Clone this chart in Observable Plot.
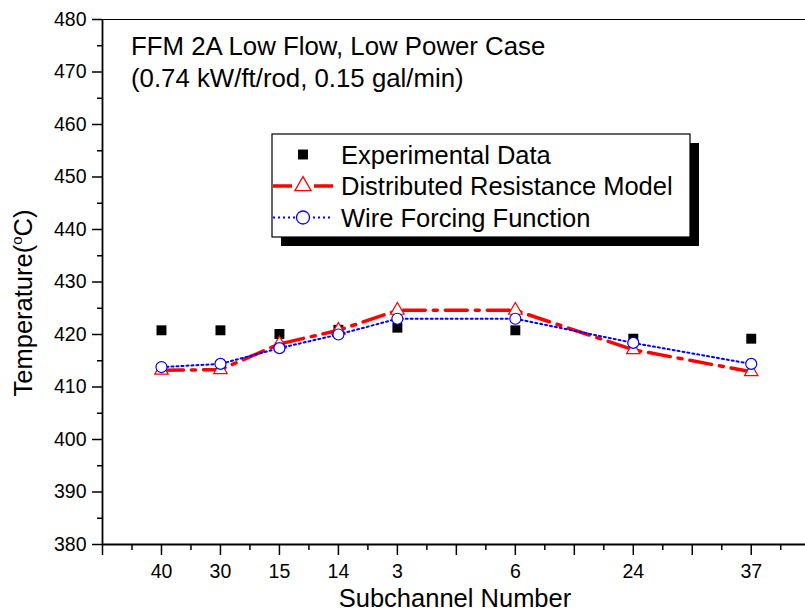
<!DOCTYPE html>
<html>
<head>
<meta charset="utf-8">
<script src="https://cdn.jsdelivr.net/npm/d3@7"></script>
<script src="https://cdn.jsdelivr.net/npm/@observablehq/plot@0.6"></script>
<style>
  html, body { margin: 0; padding: 0; background: #fff; }
  #chart { width: 805px; height: 614px; }
  svg text { font-family: "Liberation Sans", Arial, sans-serif; }
</style>
</head>
<body>
<div id="chart"></div>
<script>
// ---- data ----
const categories   = ["40", "30", "15", "14", "3", "6", "24", "37"];
const slots        = [1, 2, 3, 4, 5, 7, 9, 11];          // position of each subchannel on the axis
const experimental = [420.8, 420.8, 420.1, 420.9, 421.3, 420.8, 419.2, 419.2];
const distributed  = [413.2, 413.3, 418.2, 420.8, 424.6, 424.6, 417.1, 412.9];
const wireForcing  = [413.8, 414.4, 417.4, 420.0, 423.0, 423.0, 418.4, 414.4];
const yTicks = [380, 390, 400, 410, 420, 430, 440, 450, 460, 470, 480];
const xMajor = [0, 1, 2, 3, 4, 5, 6, 7, 8, 9, 10, 11];
const titleLines = ["FFM 2A Low Flow, Low Power Case", "(0.74 kW/ft/rod, 0.15 gal/min)"];
const seriesNames = ["Experimental Data", "Distributed Resistance Model", "Wire Forcing Function"];

const rows = categories.map((c, i) => ({
  cat: c, slot: slots[i], exp: experimental[i], drm: distributed[i], wff: wireForcing[i]
}));
const slotLabel = new Map(slots.map((s, i) => [s, categories[i]]));
const xMinor = xMajor.map(v => v + 0.5);
const yMinor = yTicks.slice(0, -1).map(v => v + 5);

const RED = "#ff0000", BLUE = "#0000ff";
const FONT = "\"Liberation Sans\", Arial, sans-serif";

const chart = Plot.plot({
  width: 805,
  height: 614,
  marginLeft: 102,
  marginRight: 0,
  marginTop: 19,
  marginBottom: 70,
  style: { fontFamily: FONT, background: "white", color: "black", overflow: "visible" },
  x: { domain: [0, 11.92], axis: null, label: null },
  y: { domain: [380, 480], axis: null, label: null },
  marks: [
    Plot.axisY({ ticks: yTicks, tickSize: 10, tickPadding: 6, fontSize: 19.5, strokeWidth: 1.5, label: null }),
    Plot.axisY({ ticks: yMinor, tickSize: 5, tickFormat: () => "", strokeWidth: 1.5, label: null }),
    Plot.axisX({ ticks: xMajor, tickSize: 11, tickPadding: 9, fontSize: 19.5, strokeWidth: 1.5,
                 tickFormat: d => slotLabel.get(d) ?? "", label: null }),
    Plot.axisX({ ticks: xMinor, tickSize: 6, tickFormat: () => "", strokeWidth: 1.5, label: null }),
    Plot.ruleX([0], { strokeWidth: 1.8 }),
    Plot.ruleY([380], { strokeWidth: 1.8 }),
    Plot.ruleY([480], { strokeWidth: 1.2 }),
    Plot.dot(rows, { x: "slot", y: "exp", symbol: "square", r: 5.6, fill: "black" }),
    Plot.line(rows, { x: "slot", y: "drm", stroke: RED, strokeWidth: 3.5, strokeDasharray: "22,8,4,8" }),
    Plot.dot(rows, { x: "slot", y: "drm", symbol: "triangle", r: 5, fill: "white", stroke: RED, strokeWidth: 1.2 }),
    Plot.line(rows, { x: "slot", y: "wff", stroke: BLUE, strokeWidth: 2, strokeDasharray: "2,3" }),
    Plot.dot(rows, { x: "slot", y: "wff", symbol: "circle", r: 5.5, fill: "white", stroke: BLUE, strokeWidth: 1.2 })
  ]
});
document.getElementById("chart").appendChild(chart);

const svg = d3.select(chart);

// in-plot title
const title = svg.append("text").attr("font-size", 25.8).attr("fill", "black").attr("text-anchor", "start");
titleLines.forEach((t, i) => {
  title.append("tspan").attr("x", 131).attr("y", 55 + i * 31.5).text(t);
});

// axis titles
svg.append("text")
  .attr("x", 455).attr("y", 607)
  .attr("text-anchor", "middle").attr("font-size", 25.5).attr("fill", "black")
  .text("Subchannel Number");

const yl = svg.append("text")
  .attr("transform", "translate(32,303) rotate(-90)")
  .attr("text-anchor", "middle").attr("font-size", 25.5).attr("fill", "black");
yl.append("tspan").text("Temperature(");
yl.append("tspan").attr("font-size", 15).attr("dy", -10).text("o");
yl.append("tspan").attr("dy", 10).text("C)");

// legend box with drop shadow
const L = { x: 272, y: 134, w: 418, h: 103, sh: 9 };
const lg = svg.append("g").attr("text-anchor", "start");
lg.append("rect").attr("x", L.x + L.sh).attr("y", L.y + L.sh).attr("width", L.w).attr("height", L.h).attr("fill", "black");
lg.append("rect").attr("x", L.x).attr("y", L.y).attr("width", L.w).attr("height", L.h)
  .attr("fill", "white").attr("stroke", "black").attr("stroke-width", 1.2);

const symX = 303, textX = 341, rowY = [154.5, 186, 217.5];
const sym = (type, r) => d3.symbol(type, r * r * Math.PI)();

// row 1: square
lg.append("path").attr("transform", `translate(${symX},${rowY[0]})`)
  .attr("d", sym(d3.symbolSquare, 5.6)).attr("fill", "black");
// row 2: red dashed with triangle
lg.append("line").attr("x1", 273).attr("x2", 292).attr("y1", rowY[1]).attr("y2", rowY[1])
  .attr("stroke", RED).attr("stroke-width", 3.5);
lg.append("line").attr("x1", 314).attr("x2", 333).attr("y1", rowY[1]).attr("y2", rowY[1])
  .attr("stroke", RED).attr("stroke-width", 3.5);
lg.append("path").attr("transform", `translate(${symX},${rowY[1]})`)
  .attr("d", sym(d3.symbolTriangle, 6)).attr("fill", "white").attr("stroke", RED).attr("stroke-width", 1.3);
// row 3: blue dotted with circle
lg.append("line").attr("x1", 273).attr("x2", 333).attr("y1", rowY[2]).attr("y2", rowY[2])
  .attr("stroke", BLUE).attr("stroke-width", 2).attr("stroke-dasharray", "2,3");
lg.append("path").attr("transform", `translate(${symX},${rowY[2]})`)
  .attr("d", sym(d3.symbolCircle, 6.5)).attr("fill", "white").attr("stroke", BLUE).attr("stroke-width", 1.3);

seriesNames.forEach((n, i) => {
  lg.append("text").attr("x", textX).attr("y", rowY[i] + 9).attr("font-size", 25.5)
    .attr("text-anchor", "start").attr("fill", "black").text(n);
});
</script>
</body>
</html>
